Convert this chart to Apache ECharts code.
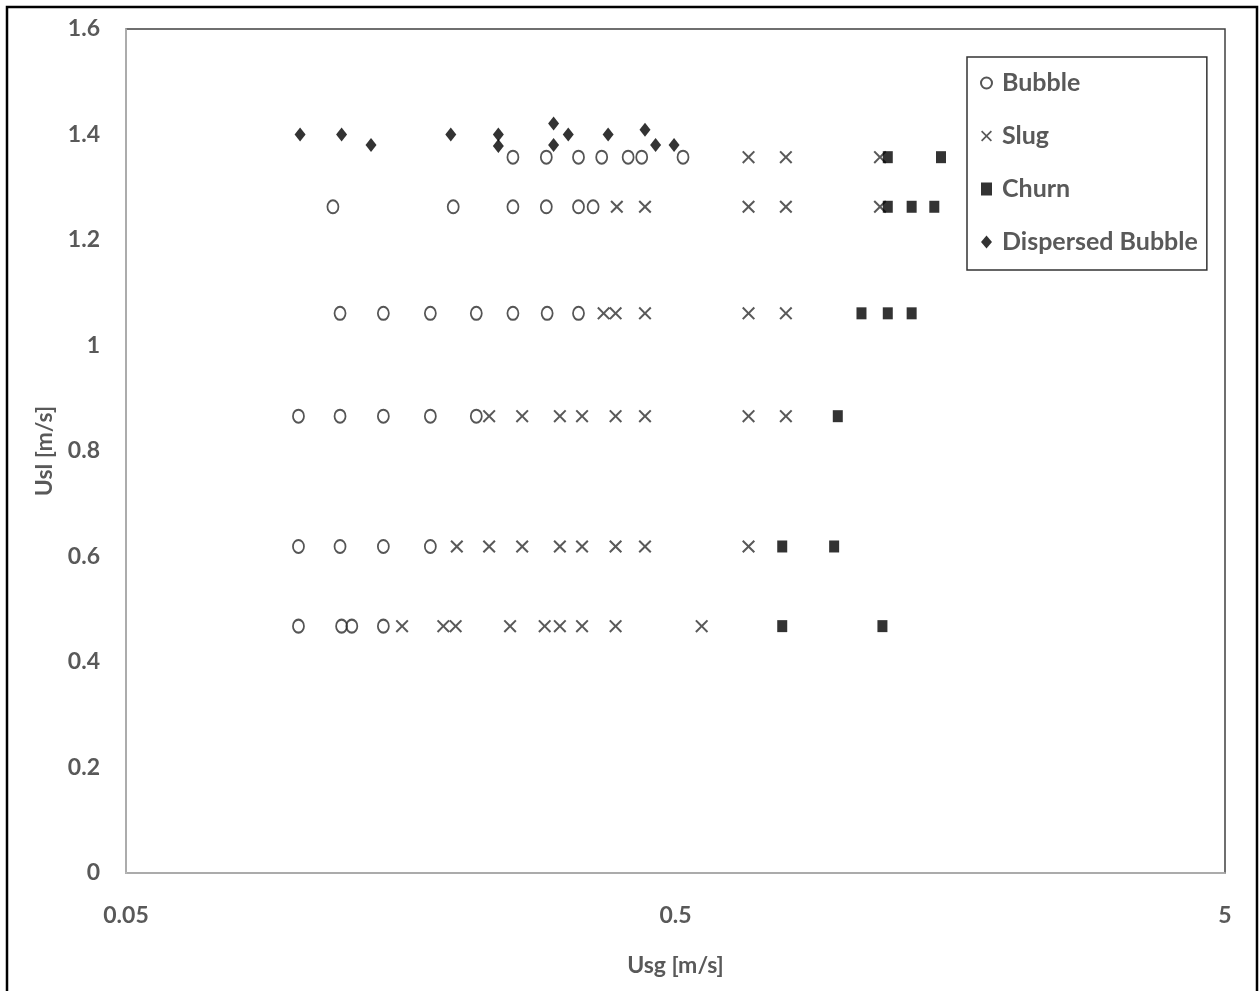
<!DOCTYPE html>
<html>
<head>
<meta charset="utf-8">
<script src="https://cdn.jsdelivr.net/npm/echarts@6/dist/echarts.min.js"></script>
<style>
html,body{margin:0;padding:0;background:#fff;}
#chart{width:1259px;height:991px;}
</style>
</head>
<body>
<div id="chart"></div>
<script>
// Usg [m/s], Usl [m/s] pairs per flow regime
const bubble = [
  [0.253,1.357],[0.291,1.357],[0.333,1.357],[0.367,1.357],[0.410,1.357],[0.434,1.357],[0.516,1.357],
  [0.119,1.263],[0.197,1.263],[0.253,1.263],[0.291,1.263],[0.333,1.263],[0.354,1.263],
  [0.1226,1.061],[0.147,1.061],[0.179,1.061],[0.217,1.061],[0.253,1.061],[0.292,1.061],[0.333,1.061],
  [0.103,0.866],[0.1226,0.866],[0.147,0.866],[0.179,0.866],[0.217,0.866],
  [0.103,0.619],[0.1226,0.619],[0.147,0.619],[0.179,0.619],
  [0.103,0.468],[0.1234,0.468],[0.1288,0.468],[0.147,0.468]
];
const slug = [
  [0.679,1.357],[0.794,1.357],[1.178,1.357],
  [0.391,1.263],[0.440,1.263],[0.679,1.263],[0.794,1.263],[1.178,1.263],
  [0.370,1.061],[0.389,1.061],[0.440,1.061],[0.679,1.061],[0.794,1.061],
  [0.229,0.866],[0.263,0.866],[0.308,0.866],[0.338,0.866],[0.389,0.866],[0.440,0.866],[0.679,0.866],[0.794,0.866],
  [0.200,0.619],[0.229,0.619],[0.263,0.619],[0.308,0.619],[0.338,0.619],[0.389,0.619],[0.440,0.619],[0.679,0.619],
  [0.159,0.468],[0.189,0.468],[0.199,0.468],[0.250,0.468],[0.289,0.468],[0.308,0.468],[0.338,0.468],[0.389,0.468],[0.558,0.468]
];
const churn = [
  [1.217,1.357],[1.521,1.357],
  [1.217,1.263],[1.345,1.263],[1.479,1.263],
  [1.09,1.061],[1.217,1.061],[1.345,1.061],
  [0.987,0.866],
  [0.782,0.619],[0.972,0.619],
  [0.782,0.468],[1.19,0.468]
];
const dispersed = [
  [0.1037,1.40],[0.1234,1.40],[0.1396,1.38],[0.195,1.40],[0.238,1.40],[0.238,1.378],
  [0.300,1.421],[0.300,1.38],[0.319,1.40],[0.377,1.40],[0.440,1.409],[0.460,1.38],[0.497,1.38]
];
const xTicks = [0.05, 0.5, 5];
const seriesNames = ['Bubble','Slug','Churn','Dispersed Bubble'];

const crossPath = 'path://M0,1.1L1.1,0L5,3.9L8.9,0L10,1.1L6.1,5L10,8.9L8.9,10L5,6.1L1.1,10L0,8.9L3.9,5Z';
const font = 'Lato, "Open Sans", sans-serif';
const labelColor = '#595959';

const chart = echarts.init(document.getElementById('chart'), null, {renderer:'canvas'});
chart.setOption({
  backgroundColor:'#fff',
  animation:false,
  grid:{left:126,right:34,top:29,bottom:118,show:true,borderColor:'#404040',borderWidth:1.5,backgroundColor:'transparent'},
  graphic:[{type:'rect',shape:{x:7,y:7,width:1250,height:1000},style:{fill:'none',stroke:'#000',lineWidth:2.5},silent:true}],
  xAxis:{
    type:'log',logBase:10,min:0.05,max:5,
    name:'Usg [m/s]',nameLocation:'middle',nameGap:81,
    nameTextStyle:{fontFamily:font,fontWeight:'bold',fontSize:23,color:labelColor},
    axisLine:{show:true,lineStyle:{color:'#c0c0c0',width:1.5}},
    axisTick:{show:false},
    splitLine:{show:false},
    minorTick:{show:false},minorSplitLine:{show:false},
    axisLabel:{customValues:xTicks,margin:31,fontFamily:font,fontWeight:'bold',fontSize:23,color:labelColor,
      formatter:function(v){return String(+v.toPrecision(3));}}
  },
  yAxis:{
    type:'value',min:0,max:1.6,interval:0.2,
    name:'Usl [m/s]',nameLocation:'middle',nameGap:70,
    nameTextStyle:{fontFamily:font,fontWeight:'bold',fontSize:23,color:labelColor},
    axisLine:{show:true,lineStyle:{color:'#c0c0c0',width:1.5}},
    axisTick:{show:false},
    splitLine:{show:false},
    axisLabel:{margin:26,fontFamily:font,fontWeight:'bold',fontSize:23,color:labelColor}
  },
  legend:{
    orient:'vertical',left:967,top:57,
    padding:[13,9,15,13],
    itemGap:27,itemWidth:11,itemHeight:13,
    borderColor:'#333',borderWidth:1.5,backgroundColor:'#fff',
    textStyle:{fontFamily:font,fontWeight:'bold',fontSize:25,color:labelColor,lineHeight:26,padding:[0,0,0,5]},
    data:seriesNames
  },
  series:[
    {name:'Bubble',type:'scatter',data:bubble,symbol:'circle',symbolSize:[11,13],
      itemStyle:{color:'transparent',borderColor:'#2a2a2a',borderWidth:1.9}},
    {name:'Slug',type:'scatter',data:slug,symbol:crossPath,symbolSize:[13,13],
      itemStyle:{color:'#303030',borderWidth:0}},
    {name:'Churn',type:'scatter',data:churn,symbol:'rect',symbolSize:[10,12],
      itemStyle:{color:'#000'}},
    {name:'Dispersed Bubble',type:'scatter',data:dispersed,symbol:'diamond',symbolSize:[11,14],
      itemStyle:{color:'#000'}}
  ]
});
</script>
</body>
</html>
